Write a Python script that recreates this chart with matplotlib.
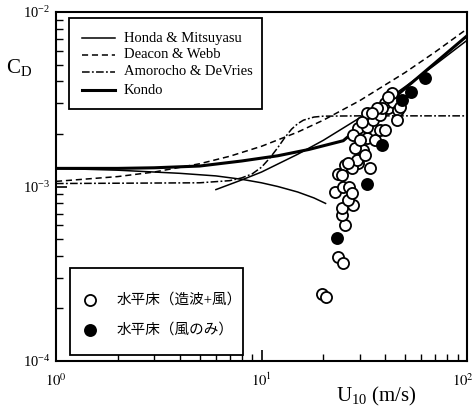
import numpy as np
import matplotlib.pyplot as plt
import matplotlib.transforms as mtransforms
from matplotlib.patches import Rectangle

plt.rcParams['font.family'] = ['Liberation Serif', 'Noto Sans CJK JP']
plt.rcParams['mathtext.fontset'] = 'stix'

# curves, C_D in units of 1e-3
honda_u1 = [1, 2, 4, 6, 8, 10, 12, 15, 18, 20.5]
honda_c1 = [1.27, 1.24, 1.19, 1.15, 1.10, 1.05, 1.00, 0.93, 0.86, 0.80]
honda_u2 = [6, 8, 10, 15, 20, 30, 40, 50, 70, 100]
honda_c2 = [0.96, 1.09, 1.21, 1.53, 1.84, 2.47, 3.10, 3.73, 4.99, 6.88]

deacon_u = [1, 2, 3, 5, 7, 10, 15, 20, 30, 50, 70, 100]
deacon_c = [1.07, 1.14, 1.21, 1.35, 1.49, 1.70, 2.05, 2.40, 3.10, 4.50, 5.90, 8.00]

amor_u = [1, 5, 7, 8, 9, 10, 11, 12, 13, 14, 15, 16, 18, 20, 30, 100]
amor_c = [1.04, 1.05, 1.08, 1.12, 1.18, 1.29, 1.46, 1.67, 1.91, 2.13, 2.29, 2.40, 2.50, 2.53, 2.54, 2.54]

kondo_u = [1, 2, 3, 5, 8, 12, 17, 25, 35, 50, 70, 100]
kondo_c = [1.27, 1.27, 1.28, 1.31, 1.40, 1.50, 1.63, 1.83, 2.56, 3.65, 5.11, 7.30]

# measurements (wave + wind)
open_u = [19.7, 20.6, 23.6, 24.9, 25.5, 24.6, 24.6, 27.9, 26.4, 22.8, 24.9, 26.7,
          27.6, 23.6, 25.5, 29.5, 33.7, 27.6, 29.2, 31.2, 28.5, 32.6, 35.7, 37.7,
          39.9, 29.5, 32.6, 34.9, 37.7, 32.6, 41.3, 39.9, 43.6, 46.1, 43.2, 41.3,
          47.2, 45.6, 38.6, 36.5, 34.5, 30.8, 27.9, 30.2, 31.9, 24.6, 26.4]
open_c = [0.242, 0.233, 0.394, 0.365, 0.602, 0.687, 0.753, 0.783, 0.837, 0.930, 0.993, 0.993,
          0.918, 1.18, 1.33, 1.36, 1.28, 1.28, 1.42, 1.62, 1.66, 1.90, 1.85, 2.11,
          2.11, 2.16, 2.19, 2.40, 2.57, 2.64, 2.82, 3.01, 3.05, 2.74, 3.43, 3.26,
          2.85, 2.40, 2.82, 2.82, 2.64, 2.34, 1.97, 1.85, 1.52, 1.16, 1.36]

# measurements (wind only)
fill_u = [62.4, 53.4, 48.3, 38.6, 32.6, 23.3]
fill_c = [4.19, 3.48, 3.13, 1.73, 1.03, 0.507]

line_labels = ['Honda & Mitsuyasu', 'Deacon & Webb', 'Amorocho & DeVries', 'Kondo']
point_labels = ['水平床（造波+風）', '水平床（風のみ）']
xtick_vals = [1, 10, 100]
xtick_labs = ['$10^0$', '$10^1$', '$10^2$']

dash = (0, (4, 2.5))
dashdot = (0, (5, 1.5, 1.2, 1.5))

fig = plt.figure(figsize=(4.76, 4.13), dpi=100)
ax = fig.add_axes([56/476, 52/413, 411/476, 349/413])

ax.plot(honda_u1, np.array(honda_c1)*1e-3, color='k', lw=1.1)
ax.plot(honda_u2, np.array(honda_c2)*1e-3, color='k', lw=1.1)
ax.plot(deacon_u, np.array(deacon_c)*1e-3, color='k', lw=1.1, ls=dash)
ax.plot(amor_u, np.array(amor_c)*1e-3, color='k', lw=1.1, ls=dashdot)
ax.plot(kondo_u, np.array(kondo_c)*1e-3, color='k', lw=2.2)

ax.plot(open_u, np.array(open_c)*1e-3, 'o', ms=8, mfc='white', mec='k', mew=1.3, zorder=5)
ax.plot(fill_u, np.array(fill_c)*1e-3, 'o', ms=8, mfc='k', mec='k', mew=1.3, zorder=6)

ax.set_xscale('log')
ax.set_yscale('log')
ax.set_xlim(1, 100)
ax.set_ylim(1e-4, 1e-2)

ax.tick_params(which='both', direction='in', top=False, right=False, labelsize=10.5)
ax.tick_params(which='major', length=8, width=1.2)
ax.tick_params(which='minor', length=5, width=1.0)
ax.tick_params(axis='x', labelbottom=False)
ax.tick_params(axis='y', pad=4)
for s in ax.spines.values():
    s.set_linewidth(1.5)

# x tick labels placed by hand so 10^2 stays inside the figure
blend = mtransforms.blended_transform_factory(ax.transData, ax.transAxes)
for u, lab, dx in zip(xtick_vals, xtick_labs, [0, 0, -3]):
    ax.annotate(lab, xy=(u, 0), xycoords=blend, xytext=(dx, -8), textcoords='offset points',
                ha='center', va='top', fontsize=10.5)

# legend boxes drawn by hand (axes coords)
tr = ax.transAxes
ax.add_patch(Rectangle((0.032, 0.722), 0.469, 0.261, transform=tr, fill=True,
                       facecolor='white', edgecolor='k', lw=1.3, zorder=7))
rows = [0.9255, 0.8768, 0.8281, 0.7765]
styles = [('-', 1.1), (dash, 1.1), (dashdot, 1.1), ('-', 2.2)]
for y, (ls, lw), lab in zip(rows, styles, line_labels):
    ax.plot([0.063, 0.144], [y, y], transform=tr, color='k', ls=ls, lw=lw, zorder=8)
    ax.text(0.1655, y, lab, transform=tr, fontsize=10.5, va='center', ha='left', zorder=8)

ax.add_patch(Rectangle((0.034, 0.017), 0.421, 0.249, transform=tr, fill=True,
                       facecolor='white', edgecolor='k', lw=1.3, zorder=7))
ax.plot([0.0827], [0.1748], 'o', transform=tr, ms=8, mfc='white', mec='k', mew=1.3, zorder=8)
ax.plot([0.0827], [0.0888], 'o', transform=tr, ms=8, mfc='k', mec='k', mew=1.3, zorder=8)
ax.text(0.1484, 0.1748, point_labels[0], transform=tr, fontsize=10.5, va='center', zorder=8)
ax.text(0.1484, 0.0888, point_labels[1], transform=tr, fontsize=10.5, va='center', zorder=8)

ax.text(-0.09, 0.84, '$\\mathregular{C_D}$', transform=ax.transAxes, fontsize=15,
        ha='center', va='center')
ax.text(0.78, -0.103, '$\\mathregular{U_{10}}$ (m/s)', transform=ax.transAxes, fontsize=15,
        ha='center', va='center')

plt.savefig('out.png', dpi=100)
